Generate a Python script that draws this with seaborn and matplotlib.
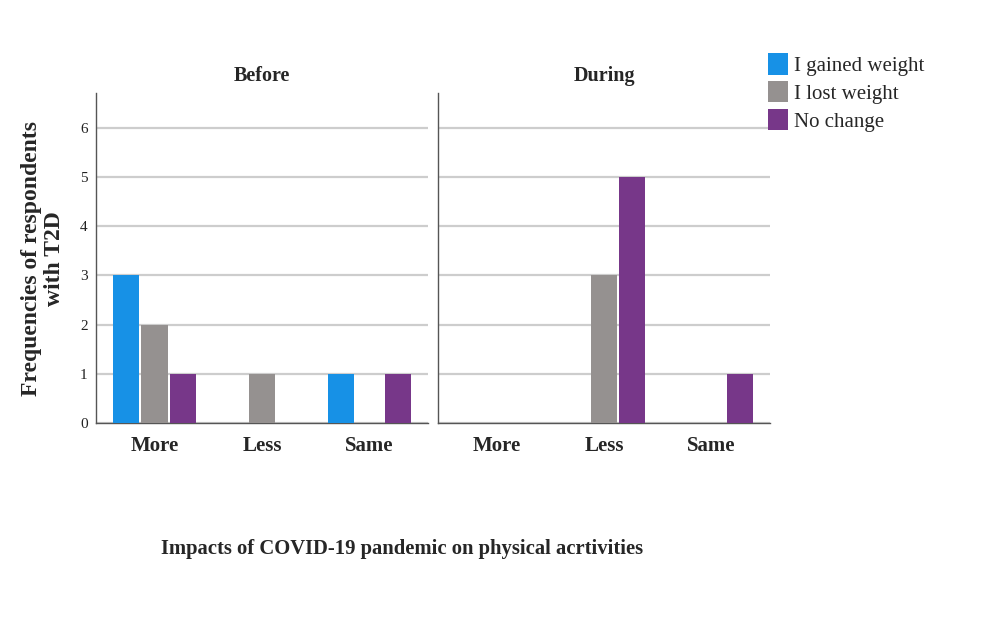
import matplotlib
matplotlib.use("Agg")
import matplotlib.pyplot as plt
from matplotlib.patches import Patch
import seaborn as sns
import pandas as pd

# ---- data ----
periods = ["Before", "During"]
activities = ["More", "Less", "Same"]
weight_groups = ["I gained weight", "I lost weight", "No change"]
before_gained = [3, 0, 1]
before_lost = [2, 1, 0]
before_nochange = [1, 0, 1]
during_gained = [0, 0, 0]
during_lost = [0, 3, 0]
during_nochange = [0, 5, 1]
colors = ["#1791E6", "#959190", "#773789"]
y_ticks = [0, 1, 2, 3, 4, 5, 6]

series = {
    "Before": [before_gained, before_lost, before_nochange],
    "During": [during_gained, during_lost, during_nochange],
}
rows = []
for p in periods:
    for g, vals in zip(weight_groups, series[p]):
        for a, v in zip(activities, vals):
            rows.append({"period": p, "activity": a, "group": g, "count": v})
df = pd.DataFrame(rows)

sns.set_theme(style="white")
plt.rcParams["font.family"] = ["Liberation Serif", "DejaVu Serif"]

fig = plt.figure(figsize=(10, 6.21), dpi=100)
ax_pos = [[0.096, 0.3188, 0.332, 0.5314], [0.438, 0.3188, 0.332, 0.5314]]

for i, p in enumerate(periods):
    ax = fig.add_axes(ax_pos[i])
    sub = df[df["period"] == p]
    sns.barplot(data=sub, x="activity", y="count", hue="group",
                order=activities, hue_order=weight_groups,
                palette=colors, saturation=1, width=0.79, gap=0.08,
                edgecolor="none", legend=False, ax=ax, zorder=3)
    ax.set_ylim(0, 6.7)
    ax.set_yticks(y_ticks)
    ax.set_xlim(-0.544, 2.544)
    ax.yaxis.grid(True, color="#cdcdcd", lw=1.6)
    ax.xaxis.grid(False)
    ax.set_axisbelow(True)
    for s in ["top", "right"]:
        ax.spines[s].set_visible(False)
    for s in ["left", "bottom"]:
        ax.spines[s].set_color("#555555")
        ax.spines[s].set_linewidth(1.0)
    ax.tick_params(axis="both", length=0)
    ax.tick_params(axis="y", pad=6, labelsize=11, labelcolor="#222222")
    ax.tick_params(axis="x", pad=9, labelsize=15)
    for lbl in ax.get_xticklabels():
        lbl.set_fontweight("bold")
    if i == 1:
        ax.set_yticklabels([])
    ax.set_xlabel("")
    ax.set_ylabel("")
    ax.set_title(p, fontsize=14.5, fontweight="bold", pad=9)

fig.text(0.043, 0.583, "Frequencies of respondents\nwith T2D", rotation=90,
         ha="center", va="center", multialignment="center",
         fontsize=17, fontweight="bold", linespacing=1.12)
fig.text(0.402, 0.1155, "Impacts of COVID-19 pandemic on physical acrtivities",
         ha="center", va="center", fontsize=14.9, fontweight="bold")

handles = [Patch(facecolor=c, edgecolor="none") for c in colors]
fig.legend(handles, weight_groups, loc="upper left", bbox_to_anchor=(0.768, 0.914),
           frameon=False, fontsize=15, handlelength=0.95, handleheight=1.2,
           handletextpad=0.3, labelspacing=0.24, borderpad=0, borderaxespad=0)

fig.savefig("out.png", dpi=100)
